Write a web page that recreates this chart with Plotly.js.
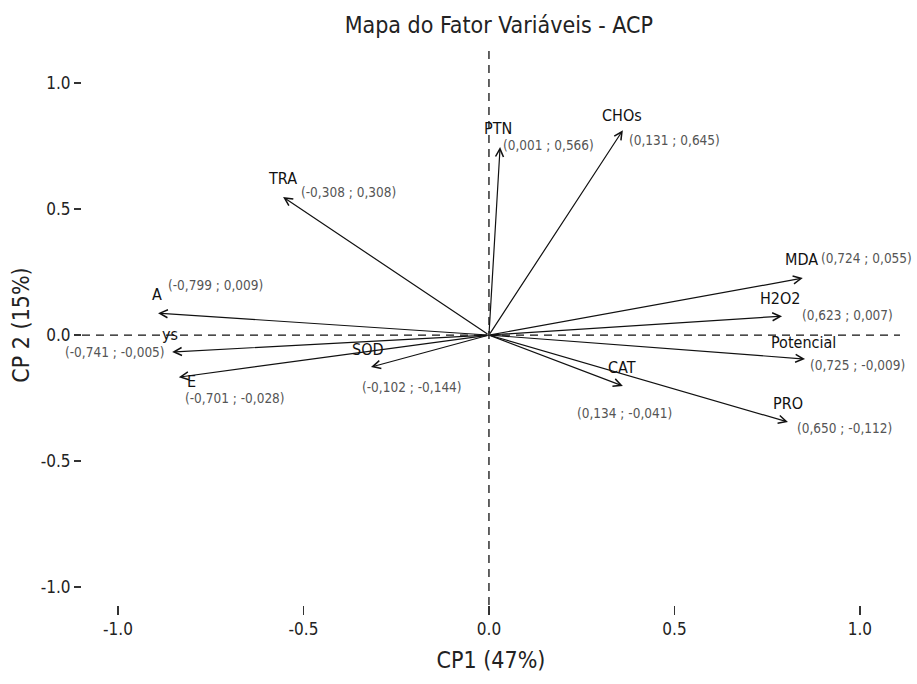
<!DOCTYPE html>
<html>
<head>
<meta charset="utf-8">
<script src="https://cdn.plot.ly/plotly-3.0.1.min.js"></script>
<style>html,body{margin:0;padding:0;background:#fff;}#chart{width:917px;height:684px;}</style>
</head>
<body>
<div id="chart"></div>
<script>
// ---- data ----
const variables = ['TRA', 'A', 'ys', 'E', 'SOD', 'PTN', 'CHOs', 'MDA', 'H2O2', 'Potencial', 'CAT', 'PRO'];
const cp1 = [-0.555, -0.892, -0.854, -0.836, -0.318, 0.030, 0.361, 0.846, 0.790, 0.852, 0.361, 0.806];
const cp2 = [0.548, 0.087, -0.067, -0.167, -0.127, 0.746, 0.813, 0.226, 0.075, -0.095, -0.202, -0.345];
const coordLabels = ['(-0,308 ; 0,308)', '(-0,799 ; 0,009)', '(-0,741 ; -0,005)', '(-0,701 ; -0,028)',
  '(-0,102 ; -0,144)', '(0,001 ; 0,566)', '(0,131 ; 0,645)', '(0,724 ; 0,055)',
  '(0,623 ; 0,007)', '(0,725 ; -0,009)', '(0,134 ; -0,041)', '(0,650 ; -0,112)'];
const tickValues = [-1, -0.5, 0, 0.5, 1];
const tickLabels = ['-1.0', '-0.5', '0.0', '0.5', '1.0'];

// ---- label placement (pixel offsets from arrow tips, screen y down) ----
const nameShift = [[-1,-18],[-1,-19],[-2,-17],[13,4],[-3,-18],[-2,-19],[-1,-15],[-1,-19],[-2,-18],[-2,-17],[-1,-18],[0,-19]];
const coordShift = [[65,-5],[57,-28],[-57,0],[56,21],[41,20],[48,-2],[52,10],[64,-20],[65,-1],[52,6],[2,27],[57,6]];

const FONT = '"Liberation Sans Narrow", "Arial Narrow", "DejaVu Sans Condensed", sans-serif';

const annotations = [];
variables.forEach((v, i) => {
  annotations.push({
    x: cp1[i], y: cp2[i], xref: 'x', yref: 'y',
    ax: 0, ay: 0, axref: 'x', ayref: 'y',
    text: '', showarrow: true, arrowhead: 5, arrowsize: 1.3, arrowwidth: 1.2,
    arrowcolor: '#111', standoff: 0, startstandoff: 0
  });
  annotations.push({
    x: cp1[i], y: cp2[i], xref: 'x', yref: 'y', text: v, showarrow: false,
    xshift: nameShift[i][0], yshift: -nameShift[i][1],
    font: {family: FONT, size: 16, color: '#111'}
  });
  annotations.push({
    x: cp1[i], y: cp2[i], xref: 'x', yref: 'y', text: coordLabels[i], showarrow: false,
    xshift: coordShift[i][0], yshift: -coordShift[i][1],
    font: {family: FONT, size: 13.5, color: '#555'}
  });
});

const trace = {
  x: cp1, y: cp2, type: 'scatter', mode: 'markers',
  marker: {size: 1, color: 'rgba(0,0,0,0)'}, hoverinfo: 'skip', showlegend: false
};

const layout = {
  width: 917, height: 684,
  margin: {l: 82, r: 17, t: 45, b: 79},
  paper_bgcolor: '#fff', plot_bgcolor: '#fff',
  showlegend: false,
  title: {text: 'Mapa do Fator Variáveis - ACP', font: {family: FONT, size: 23, color: '#222'},
          x: 0.544, xref: 'container', xanchor: 'center', y: 0.963, yref: 'container', yanchor: 'middle'},
  xaxis: {
    range: [-1.097, 1.108], showgrid: false, zeroline: false, showline: false,
    tickmode: 'array', tickvals: tickValues, ticktext: tickLabels,
    ticks: 'outside', ticklen: 9, tickwidth: 1.3, tickcolor: '#333',
    tickfont: {family: FONT, size: 17, color: '#222'},
    title: {text: 'CP1 (47%)', font: {family: FONT, size: 23, color: '#222'}, standoff: 13}
  },
  yaxis: {
    range: [-1.071, 1.151], showgrid: false, zeroline: false, showline: false,
    tickmode: 'array', tickvals: tickValues, ticktext: tickLabels,
    ticks: 'outside', ticklen: 7, tickwidth: 1.3, tickcolor: '#333',
    tickfont: {family: FONT, size: 17, color: '#222'},
    title: {text: 'CP 2 (15%)', font: {family: FONT, size: 23, color: '#222'}, standoff: 4}
  },
  shapes: [
    {type: 'line', xref: 'paper', yref: 'y', x0: 0, x1: 1, y0: 0, y1: 0,
     line: {color: '#111', width: 1.3, dash: '8px,6px'}},
    {type: 'line', xref: 'x', yref: 'paper', x0: 0, x1: 0, y0: 0, y1: 1,
     line: {color: '#111', width: 1.3, dash: '8px,6px'}}
  ],
  annotations: annotations
};

Plotly.newPlot('chart', [trace], layout, {staticPlot: true});
</script>
</body>
</html>
